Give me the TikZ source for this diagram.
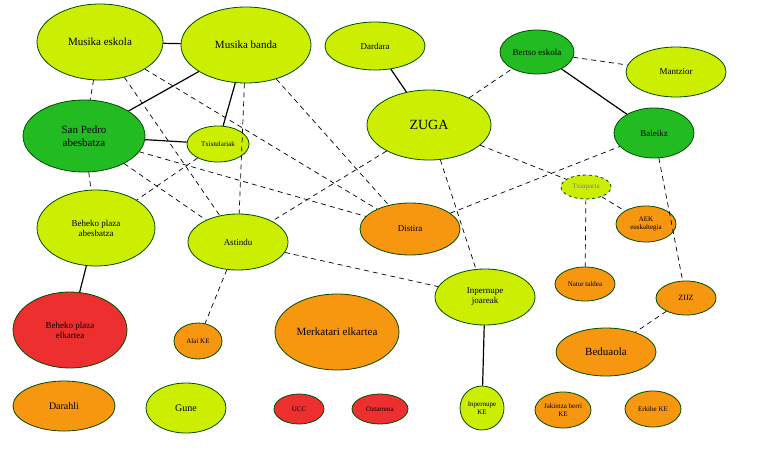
\documentclass[tikz,border=0pt]{standalone}
\usepackage{fontspec}
\setmainfont{Liberation Serif}
\usetikzlibrary{shapes.geometric}
\definecolor{clime}{HTML}{CCEE00}
\definecolor{cgreen}{HTML}{22BB22}
\definecolor{corange}{HTML}{F7960F}
\definecolor{cred}{HTML}{EE2F2F}
\begin{document}
\begin{tikzpicture}[x=1pt,y=-1pt,
 e/.style={ellipse,draw=black!70!green,line width=0.8pt,inner sep=0pt,align=center,font=\fontsize{9}{10}\selectfont},
 cl/.style={fill=clime},
 cg/.style={fill=cgreen},
 co/.style={fill=corange},
 cr/.style={fill=cred},
 s/.style={line width=1.2pt},
 d/.style={dash pattern=on 5pt off 4pt,line width=0.7pt}]
\useasboundingbox (0,0) rectangle (768,474);
\def\E#1#2#3#4#5#6#7{\node[e,#6,minimum width=#4*2pt,minimum height=#5*2pt] (#1) at (#2,#3) {#7};}
\E{me}{100}{42}{63}{38}{cl,font=\fontsize{11}{12}\selectfont}{Musika eskola}
\E{mb}{246}{45}{65}{38}{cl,font=\fontsize{11}{12}\selectfont}{Musika banda}
\E{dar}{375}{46}{50}{24}{cl}{Dardara}
\E{zuga}{429}{125}{62}{35}{cl,font=\fontsize{14}{15}\selectfont}{ZUGA}
\E{sp}{84}{136}{61}{36}{cg,font=\fontsize{11}{13}\selectfont}{San Pedro\\abesbatza}
\E{tx}{218}{144}{31}{18}{cl,font=\fontsize{7}{8}\selectfont}{Txistulariak}
\E{be}{537}{52}{37}{22}{cg}{Bertso eskola}
\E{man}{676}{72}{50}{25}{cl}{Mantzior}
\E{bal}{654}{133}{40}{25}{cg}{Baleikz}
\node[e,cl,dashed,minimum width=50pt,minimum height=24pt,text=gray,font=\fontsize{7}{8}\selectfont] (txi) at (586,187) {Txinparta};
\E{aek}{646}{224}{30}{18}{co,font=\fontsize{7}{8}\selectfont}{AEK\\euskaltegia}
\E{nat}{585}{284}{30}{17}{co,font=\fontsize{7}{8}\selectfont}{Natur taldea}
\E{ziiz}{686}{298}{30}{17}{co,font=\fontsize{8}{9}\selectfont}{ZIIZ}
\E{bed}{606}{352}{50}{24}{co,font=\fontsize{11}{12}\selectfont}{Beduaola}
\E{bpa}{96}{228}{59}{38}{cl}{Beheko plaza\\abesbatza}
\E{ast}{238}{242}{50}{28}{cl}{Astindu}
\E{dis}{410}{229}{50}{26}{co}{Distira}
\E{inj}{485}{297}{50}{28}{cl}{Inpernupe\\joareak}
\E{bpe}{70}{330}{57}{38}{cr}{Beheko plaza\\elkartea}
\E{alai}{198}{341}{24}{18}{co,font=\fontsize{7}{8}\selectfont}{Alai KE}
\E{mer}{337}{332}{62}{38}{co,font=\fontsize{11}{12}\selectfont}{Merkatari elkartea}
\E{ike}{482}{408}{22}{22}{cl,font=\fontsize{7}{8}\selectfont}{Inpernupe\\KE}
\E{jak}{563}{410}{28}{18}{co,font=\fontsize{7}{8}\selectfont}{Jakintza berri\\KE}
\E{erk}{653}{409}{28}{18}{co,font=\fontsize{7}{8}\selectfont}{Erkibe KE}
\E{darh}{64}{406}{51}{25}{co,font=\fontsize{10}{11}\selectfont}{Darahli}
\E{gune}{186}{408}{40}{25}{cl,font=\fontsize{10}{11}\selectfont}{Gune}
\E{ucc}{299}{409}{25}{15}{cr,font=\fontsize{7}{8}\selectfont}{UCC}
\E{ozt}{380}{409}{28}{15}{cr,font=\fontsize{7}{8}\selectfont}{Oztarrena}
\draw[s] (me)--(mb); \draw[s] (sp)--(mb); \draw[s] (mb)--(tx); \draw[s] (sp)--(tx);
\draw[s] (dar)--(zuga); \draw[s] (be)--(bal); \draw[s] (bpa)--(bpe); \draw[s] (inj)--(ike);
\draw[d] (me)--(sp); \draw[d] (me)--(ast); \draw[d] (me)--(dis); \draw[d] (mb)--(dis);
\draw[d] (mb)--(ast); \draw[d] (sp)--(bpa); \draw[d] (sp)--(ast); \draw[d] (sp)--(dis);
\draw[d] (tx)--(bpa); \draw[d] (zuga)--(ast); \draw[d] (zuga)--(be); \draw[d] (zuga)--(txi);
\draw[d] (zuga)--(inj); \draw[d] (dis)--(bal); \draw[d] (be)--(man); \draw[d] (bal)--(ziiz);
\draw[d] (txi)--(aek); \draw[d] (txi)--(nat); \draw[d] (ziiz)--(bed); \draw[d] (ast)--(inj);
\draw[d] (ast)--(alai);
\end{tikzpicture}
\end{document}
